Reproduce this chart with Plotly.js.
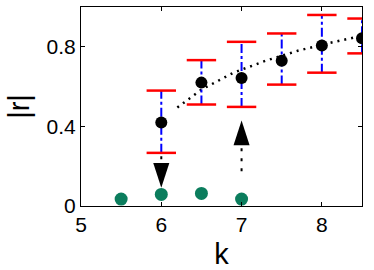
<!DOCTYPE html>
<html><head><meta charset="utf-8">
<script src="https://cdn.plot.ly/plotly-3.0.1.min.js"></script>
<style>html,body{margin:0;padding:0;background:#fff}#c{width:374px;height:270px}</style>
</head><body><div id="c"></div>
<script>
// measured points
const k = [6, 6.5, 7, 7.5, 8, 8.5];
const r = [0.42, 0.62, 0.643, 0.73, 0.807, 0.843];
const rUpper = [0.58, 0.733, 0.825, 0.867, 0.96, 0.942];
const rLower = [0.267, 0.51, 0.498, 0.61, 0.67, 0.767];
// small-r points
const k2 = [5.5, 6, 6.5, 7];
const r2 = [0.035, 0.058, 0.063, 0.035];
// dotted trend curve
const fitK = [6.2, 6.5, 6.9, 7.3, 7.7, 8.1, 8.5];
const fitR = [0.495, 0.585, 0.67, 0.73, 0.78, 0.82, 0.855];
// arrows (tip positions)
const arrowK = [6, 7];
const arrowTip = [0.092, 0.43];
const arrowAngle = [180, 0];
const arrowStemK = [6, 6, null, 7, 7];
const arrowStemR = [0.25, 0.2, null, 0.29, 0.15];
// tick labels
const xTicks = [5, 6, 7, 8];
const yTicks = [0, 0.4, 0.8];

const stemX = [], stemY = [];
k.forEach((v, i) => { stemX.push(v, v, null); stemY.push(rLower[i], rUpper[i], null); });
const capX = k.concat(k), capY = rUpper.concat(rLower);

const traces = [
  {x: fitK, y: fitR, mode: 'lines', line: {color: '#000', width: 2.5, dash: '2px,5px'}},
  {x: stemX, y: stemY, mode: 'lines', line: {color: '#0000ff', width: 2, dash: 'dashdot'}, connectgaps: false},
  {x: capX, y: capY, mode: 'markers', marker: {symbol: 'line-ew', size: 21, line: {color: '#ff0000', width: 2.5}}},
  {x: k, y: r, mode: 'markers', marker: {color: '#000', size: 12}},
  {x: arrowStemK, y: arrowStemR, mode: 'lines', line: {color: '#000', width: 2, dash: '3px,7px'}},
  {x: arrowK, y: arrowTip, mode: 'markers', marker: {symbol: 'arrow', size: 26, angle: arrowAngle, color: '#000'}},
  {x: k2, y: r2, mode: 'markers', marker: {color: '#0b7d5d', size: 13}}
];

const font = {family: 'Liberation Sans, Arial, sans-serif', color: '#000'};
const layout = {
  width: 374, height: 270,
  margin: {l: 81, r: 12, t: 7, b: 64},
  showlegend: false,
  paper_bgcolor: '#fff', plot_bgcolor: '#fff',
  font: font,
  xaxis: {range: [5, 8.5], tickvals: xTicks, ticktext: xTicks.map(String),
    ticks: 'inside', ticklen: 4, tickcolor: '#000', showgrid: false, zeroline: false,
    showline: true, linecolor: '#000', linewidth: 1, mirror: 'ticks',
    tickfont: {family: font.family, size: 21, color: '#000'},
    title: {text: 'k', font: {family: font.family, size: 29, color: '#000'}, standoff: 9}},
  yaxis: {range: [0, 1], tickvals: yTicks, ticktext: ['0', '0.4', '0.8'],
    ticks: 'inside', ticklen: 4, tickcolor: '#000', showgrid: false, zeroline: false,
    showline: true, linecolor: '#000', linewidth: 1, mirror: 'ticks',
    tickfont: {family: font.family, size: 21, color: '#000'},
    title: {text: '|r|', font: {family: font.family, size: 29, color: '#000'}, standoff: 8}}
};
Plotly.newPlot('c', traces, layout, {staticPlot: true});
</script></body></html>
